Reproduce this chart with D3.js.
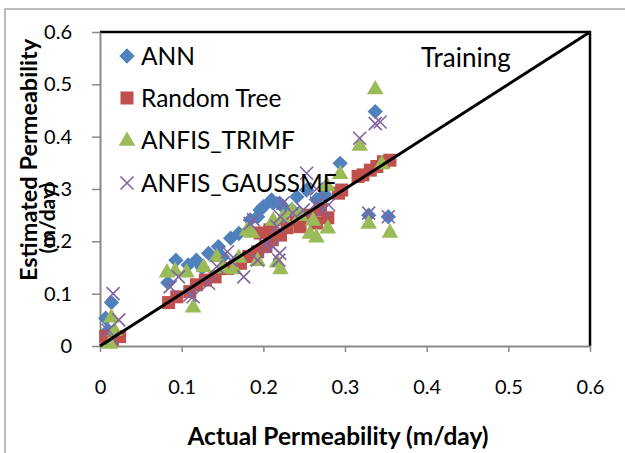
<!DOCTYPE html>
<html>
<head>
<meta charset="utf-8">
<script src="https://cdn.jsdelivr.net/npm/d3@7"></script>
<style>
  body { margin: 0; background: #fff; }
  text { font-family: Lato, "DejaVu Sans", sans-serif; fill: #000; }
</style>
</head>
<body>
<svg id="chart" width="625" height="453"></svg>
<script>
// series names and the values, [actual, estimated]
const seriesNames = ["ANN", "Random Tree", "ANFIS_TRIMF", "ANFIS_GAUSSMF"];
const tickValues = [0, 0.1, 0.2, 0.3, 0.4, 0.5, 0.6];

const annPoints = [
  [0.007, 0.053], [0.014, 0.083], [0.010, 0.030], [0.012, 0.010],
  [0.083, 0.121], [0.093, 0.164], [0.108, 0.155], [0.118, 0.164],
  [0.125, 0.150], [0.133, 0.177], [0.145, 0.190], [0.150, 0.170],
  [0.160, 0.206], [0.170, 0.215], [0.182, 0.222], [0.184, 0.241],
  [0.193, 0.247], [0.196, 0.260], [0.200, 0.266], [0.210, 0.279],
  [0.212, 0.273], [0.220, 0.273], [0.224, 0.266], [0.235, 0.260],
  [0.241, 0.285], [0.253, 0.298], [0.265, 0.280], [0.275, 0.290],
  [0.294, 0.349], [0.337, 0.448], [0.329, 0.250], [0.353, 0.247]
];
const randomTreePoints = [
  [0.007, 0.018], [0.024, 0.018], [0.015, 0.012],
  [0.084, 0.083], [0.094, 0.094], [0.110, 0.104], [0.118, 0.117],
  [0.129, 0.126], [0.141, 0.132], [0.156, 0.148], [0.172, 0.158],
  [0.182, 0.171], [0.193, 0.180], [0.203, 0.190], [0.211, 0.203],
  [0.221, 0.212], [0.196, 0.216], [0.208, 0.222], [0.229, 0.226],
  [0.240, 0.240], [0.245, 0.228], [0.255, 0.250], [0.265, 0.235],
  [0.270, 0.260], [0.279, 0.245], [0.292, 0.292], [0.296, 0.298],
  [0.316, 0.324], [0.322, 0.327], [0.331, 0.336], [0.339, 0.343],
  [0.347, 0.352], [0.355, 0.355]
];
const trimfPoints = [
  [0.014, 0.056], [0.012, 0.006], [0.018, 0.030],
  [0.082, 0.142], [0.092, 0.145], [0.106, 0.142], [0.114, 0.075],
  [0.127, 0.152], [0.143, 0.171], [0.150, 0.150], [0.164, 0.148],
  [0.170, 0.170], [0.180, 0.222], [0.186, 0.218], [0.193, 0.164],
  [0.212, 0.241], [0.217, 0.161], [0.221, 0.148], [0.224, 0.247],
  [0.235, 0.260], [0.245, 0.250], [0.257, 0.216], [0.261, 0.241],
  [0.265, 0.209], [0.277, 0.307], [0.278, 0.308], [0.279, 0.226],
  [0.294, 0.330], [0.318, 0.384], [0.337, 0.492], [0.345, 0.349],
  [0.329, 0.235], [0.355, 0.218]
];
const gaussmfPoints = [
  [0.016, 0.100], [0.023, 0.050], [0.010, 0.030], [0.015, 0.015],
  [0.086, 0.113], [0.096, 0.132], [0.110, 0.097], [0.114, 0.094],
  [0.133, 0.120], [0.143, 0.152], [0.156, 0.180], [0.160, 0.164],
  [0.176, 0.132], [0.184, 0.234], [0.188, 0.241], [0.193, 0.164],
  [0.203, 0.193], [0.212, 0.190], [0.217, 0.228], [0.219, 0.164],
  [0.220, 0.177], [0.221, 0.247], [0.224, 0.273], [0.236, 0.254],
  [0.249, 0.260], [0.253, 0.330], [0.265, 0.273], [0.265, 0.300],
  [0.273, 0.260], [0.280, 0.270], [0.318, 0.397], [0.337, 0.425],
  [0.343, 0.428], [0.329, 0.254], [0.353, 0.247]
];

const svg = d3.select("#chart");
const plotLeft = 100, plotTop = 32, plotRight = 590, plotBottom = 346;

// outer chart border
svg.append("rect")
  .attr("x", 5).attr("y", 9)
  .attr("width", 660).attr("height", 470)
  .attr("fill", "none").attr("stroke", "#a6a6a6").attr("stroke-width", 1.5);

let x = d3.scaleLinear().domain([0, 0.6]).range([plotLeft, plotRight]);
let y = d3.scaleLinear().domain([0, 0.6]).range([plotBottom, plotTop]);

// plot area frame: top and right in black
svg.append("path")
  .attr("d", "M" + plotLeft + "," + plotTop + "H" + plotRight + "V" + plotBottom)
  .attr("fill", "none").attr("stroke", "#000").attr("stroke-width", 2.5);

let xAxis = d3.axisBottom(x).tickValues(tickValues).tickFormat(d => d3.format("")(d))
  .tickSizeInner(6).tickSizeOuter(0).tickPadding(28);
let gx = svg.append("g").attr("transform", "translate(0," + plotBottom + ")").call(xAxis);

let yAxis = d3.axisLeft(y).tickValues(tickValues).tickFormat(d => d3.format("")(d))
  .tickSizeInner(8).tickSizeOuter(0).tickPadding(20);
let gy = svg.append("g").attr("transform", "translate(" + plotLeft + ",0)").call(yAxis);

[gx, gy].forEach(function (g) {
  g.select(".domain").attr("stroke", "#898989").attr("stroke-width", 2);
  g.selectAll(".tick line").attr("stroke", "#898989").attr("stroke-width", 1.5);
  g.selectAll(".tick text").style("font-size", "20px").attr("fill", "#000")
    .style("font-family", "Lato, 'DejaVu Sans', sans-serif");
});

// markers
const colors = ["#4F81BD", "#C0504D", "#9BBB59", "#8064A2"];
function marker(g, i, cx, cy) {
  if (i === 0) {
    g.append("path").attr("d", d3.symbol(d3.symbolDiamond2, 150)())
      .attr("transform", "translate(" + cx + "," + cy + ")")
      .attr("fill", colors[0]);
  } else if (i === 1) {
    g.append("rect").attr("x", cx - 6.5).attr("y", cy - 6.5)
      .attr("width", 13).attr("height", 13).attr("fill", colors[1]);
  } else if (i === 2) {
    g.append("path").attr("d", d3.symbol(d3.symbolTriangle, 120)())
      .attr("transform", "translate(" + cx + "," + (cy + 1) + ")")
      .attr("fill", colors[2]);
  } else {
    g.append("path").attr("d", "M-6.5,-6.5L6.5,6.5M-6.5,6.5L6.5,-6.5")
      .attr("transform", "translate(" + cx + "," + cy + ")")
      .attr("stroke", colors[3]).attr("stroke-width", 1.6).attr("fill", "none");
  }
}

let allSeries = [annPoints, randomTreePoints, trimfPoints, gaussmfPoints];
allSeries.forEach(function (pts, i) {
  let g = svg.append("g");
  pts.forEach(function (d) {
    marker(g, i, x(d[0]), y(d[1]));
  });
});

// 1:1 line
svg.append("line")
  .attr("x1", x(0)).attr("y1", y(0)).attr("x2", x(0.6)).attr("y2", y(0.6))
  .attr("stroke", "#000").attr("stroke-width", 3);

// legend
const legendRows = [56, 98, 140, 183];
seriesNames.forEach(function (name, i) {
  let g = svg.append("g");
  marker(g, i, 127, legendRows[i]);
  g.append("text").attr("x", 141).attr("y", legendRows[i])
    .attr("dy", "0.36em").style("font-size", "24.5px").text(name);
});

svg.append("text").attr("x", 421).attr("y", 58).attr("dy", "0.36em")
  .style("font-size", "26px").text("Training");

// axis titles
svg.append("text").attr("x", 338).attr("y", 436).attr("dy", "0.36em")
  .attr("text-anchor", "middle").style("font-size", "24.5px").style("font-weight", "bold")
  .text("Actual Permeability (m/day)");

svg.append("text").attr("transform", "translate(29,160) rotate(-90)")
  .attr("dy", "0.36em").attr("text-anchor", "middle")
  .style("font-size", "23.5px").style("font-weight", "bold")
  .text("Estimated Permeability");
svg.append("text").attr("transform", "translate(47,218) rotate(-90)")
  .attr("dy", "0.36em").attr("text-anchor", "middle")
  .style("font-size", "21px").style("font-weight", "bold")
  .text("(m/day)");
</script>
</body>
</html>
